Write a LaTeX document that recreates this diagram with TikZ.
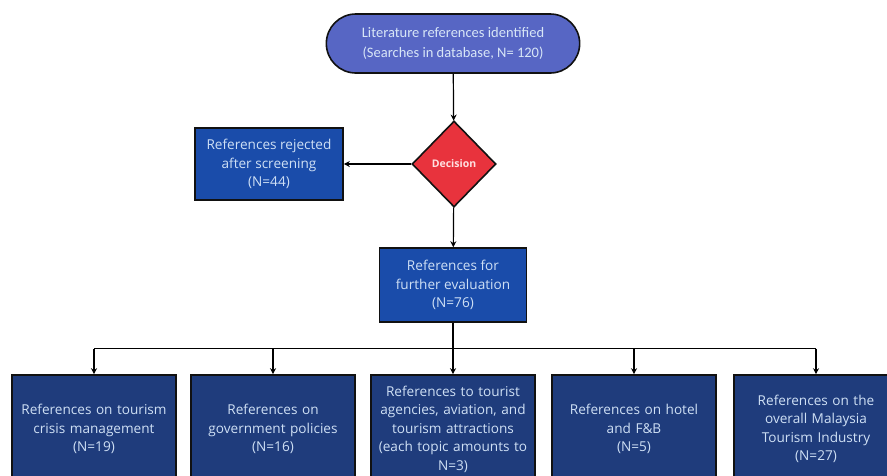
\documentclass[tikz,border=0pt]{standalone}
\usepackage{fontspec}
\setmainfont{Open Sans}
\newfontfamily\topfont{Carlito}
\usetikzlibrary{arrows.meta,shapes.geometric,shapes.misc}
\definecolor{topblue}{HTML}{5766C4}
\definecolor{midblue}{HTML}{1A4CAA}
\definecolor{navy}{HTML}{1F3C7C}
\definecolor{redd}{HTML}{E8333D}
\definecolor{txtc}{HTML}{CFE0F5}
\definecolor{edge}{HTML}{111111}
\tikzset{
  box/.style={draw=edge, line width=1.6pt, align=center, text=txtc, font=\fontsize{13.6}{18.5}\selectfont, inner sep=2pt},
  midbox/.style={box, fill=midblue},
  lowbox/.style={box, fill=navy, minimum width=162pt, minimum height=108pt, text width=160pt},
  conn/.style={line width=1.2pt, draw=black},
  arr/.style={conn, -{Stealth[length=6pt,width=6pt]}}
}
\begin{document}
\begin{tikzpicture}[x=1pt,y=-1pt]
\useasboundingbox[fill=white] (0,0) rectangle (887,475);
\node[draw=edge, line width=1.6pt, fill=topblue, rounded rectangle, minimum width=260pt, minimum height=59pt, align=center, text=txtc!80!white, font=\topfont\fontsize{14.5}{20}\selectfont] (lit) at (453,43.5) {Literature references identified\\(Searches in database, N= 120)};
\node[draw=edge, line width=1.6pt, fill=redd, diamond, minimum width=84pt, minimum height=86pt, inner sep=0pt, text=white!88!red, font=\bfseries\fontsize{10.5}{12}\selectfont] (dec) at (454,164) {Decision};
\node[midbox, minimum width=148pt, minimum height=72pt] (rej) at (269,164) {References rejected\\after screening\\(N=44)};
\node[midbox, minimum width=147pt, minimum height=74pt] (eval) at (453,285) {References for\\further evaluation\\(N=76)};
\node[lowbox] (b1) at (94,429) {References on tourism\\crisis management\\(N=19)};
\node[lowbox] (b2) at (273,429) {References on\\government policies\\(N=16)};
\node[lowbox] (b3) at (453,429) {References to tourist\\agencies, aviation, and\\tourism attractions\\(each topic amounts to\\N=3)};
\node[lowbox] (b4) at (634,429) {References on hotel\\and F\&B\\(N=5)};
\node[lowbox] (b5) at (816,429) {References on the\\overall Malaysia\\Tourism Industry\\(N=27)};
\coordinate (bus) at (453,348.5);
\draw[arr] (lit) -- (dec);
\draw[arr] (dec) -- (rej);
\draw[arr] (dec) -- (eval);
\draw[conn] (eval) -- (bus);
\draw[conn] (b1.north |- bus) -- (b5.north |- bus);
\foreach \b in {b1,b2,b3,b4,b5} \draw[arr] (\b.north |- bus) -- (\b.north);
\end{tikzpicture}
\end{document}
